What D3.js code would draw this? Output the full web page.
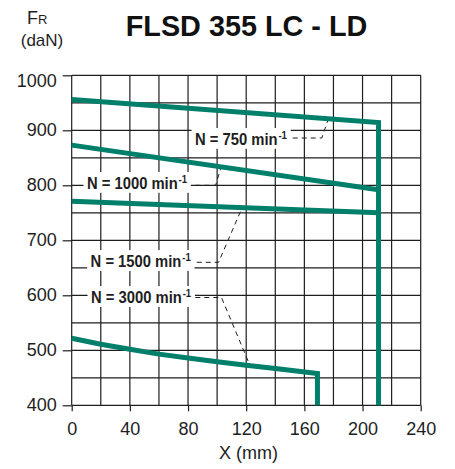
<!DOCTYPE html>
<html>
<head>
<meta charset="utf-8">
<script src="https://cdn.jsdelivr.net/npm/d3@7"></script>
<style>
  html, body { margin: 0; padding: 0; background: #fff; }
  svg { display: block; font-family: "Liberation Sans", Arial, sans-serif; }
</style>
</head>
<body>
<svg id="chart" width="455" height="469"></svg>
<script>
// ---------- data ----------
const xTicks = [0, 40, 80, 120, 160, 200, 240];
const yTicks = [400, 500, 600, 700, 800, 900, 1000];
const xGrid = [0, 20, 40, 60, 80, 100, 120, 140, 160, 180, 200, 220, 240];
const yGrid = [400, 450, 500, 550, 600, 650, 700, 750, 800, 850, 900, 950, 1000];

const speeds = ["N = 750 min", "N = 1000 min", "N = 1500 min", "N = 3000 min"];
const curve750  = [[0, 956], [211, 914], [211, 400]];
const curve1000 = [[0, 873], [211, 792]];
const curve1500 = [[0, 771], [211, 750]];
const curve3000 = [[0, 522], [20, 511], [40, 502], [60, 493], [80, 486], [100, 479],
                   [120, 473], [140, 467], [169, 458], [169, 400]];

// annotation placement (data units)
const labelAnchors = [[84.8, 874], [10.5, 794], [13, 652], [13.3, 586.5]];
const leaders = [
  [[152, 886], [172, 886], [176, 917]],
  [[85, 800], [99, 800], [102.5, 831]],
  [[86, 660], [101, 660], [116, 752]],
  [[85, 596], [103, 596], [122.5, 473]]
];

// ---------- drawing ----------
const svg = d3.select("#chart");
const x = d3.scaleLinear().domain([0, 240]).range([71.7, 420.7]);
const y = d3.scaleLinear().domain([400, 1000]).range([405.3, 75.3]);
const ink = "#1e1e1e";
const teal = "#007f6b";

// grid
const grid = svg.append("g").attr("stroke", ink).attr("stroke-width", 1.2);
grid.selectAll("line.v").data(xGrid).join("line")
  .attr("x1", d => x(d)).attr("x2", d => x(d))
  .attr("y1", y(1000)).attr("y2", y(400));
grid.selectAll("line.h").data(yGrid).join("line")
  .attr("x1", x(0)).attr("x2", x(240))
  .attr("y1", d => y(d)).attr("y2", d => y(d));

// axes (ticks + labels)
const yAxis = svg.append("g").attr("transform", `translate(${x(0)},0)`)
  .call(d3.axisLeft(y).tickValues(yTicks).tickFormat(d3.format("d")).tickSize(9).tickPadding(6));
const xAxis = svg.append("g").attr("transform", `translate(0,${y(400)})`)
  .call(d3.axisBottom(x).tickValues(xTicks).tickFormat(d3.format("d")).tickSize(6).tickPadding(11));
[yAxis, xAxis].forEach(a => {
  a.select(".domain").remove();
  a.selectAll(".tick line").attr("stroke", ink).attr("stroke-width", 1.2);
  a.selectAll(".tick text").attr("fill", ink)
    .attr("font-size", 18).attr("font-family", "'Liberation Sans', Arial, sans-serif");
});
yAxis.selectAll(".tick text").attr("dy", d => d === 1000 ? "0.6em" : "0.28em");

// labels with white boxes
const labelLayer = svg.append("g");
speeds.forEach((s, i) => {
  const [lx, ly] = labelAnchors[i];
  const g = labelLayer.append("g")
    .attr("transform", `translate(${x(lx)},${y(ly)}) scale(0.87,1)`);
  const t = g.append("text")
    .attr("font-size", 17).attr("font-weight", "bold").attr("fill", ink);
  t.append("tspan").text(s);
  t.append("tspan").attr("font-size", 11).attr("dy", -6).attr("dx", 1).text("-1");
  const bb = t.node().getBBox();
  g.insert("rect", "text")
    .attr("x", bb.x - 4).attr("y", bb.y - 1)
    .attr("width", bb.width + 8).attr("height", bb.height + 2)
    .attr("fill", "#fff");
});

// leader lines
const line = d3.line().x(d => x(d[0])).y(d => y(d[1]));
svg.append("g").selectAll("path").data(leaders).join("path")
  .attr("d", line).attr("fill", "none")
  .attr("stroke", ink).attr("stroke-width", 1)
  .attr("stroke-dasharray", "5,4");

// curves
svg.append("g").selectAll("path")
  .data([curve750, curve1000, curve1500, curve3000]).join("path")
  .attr("d", line).attr("fill", "none")
  .attr("stroke", teal).attr("stroke-width", 5)
  .attr("stroke-linejoin", "miter").attr("stroke-linecap", "butt");

// titles
svg.append("text")
  .attr("transform", "translate(246.5,36) scale(0.96,1)")
  .attr("text-anchor", "middle").attr("font-size", 30).attr("font-weight", "bold")
  .attr("fill", "#111").text("FLSD 355 LC - LD");

const fr = svg.append("text").attr("x", 27).attr("y", 24).attr("fill", ink);
fr.append("tspan").attr("font-size", 18).text("F");
fr.append("tspan").attr("font-size", 13).text("R");
svg.append("text").attr("x", 42).attr("y", 46).attr("text-anchor", "middle")
  .attr("font-size", 17).attr("fill", ink).text("(daN)");

svg.append("text").attr("x", 248.5).attr("y", 459).attr("text-anchor", "middle")
  .attr("font-size", 18).attr("fill", ink).text("X (mm)");
</script>
</body>
</html>
